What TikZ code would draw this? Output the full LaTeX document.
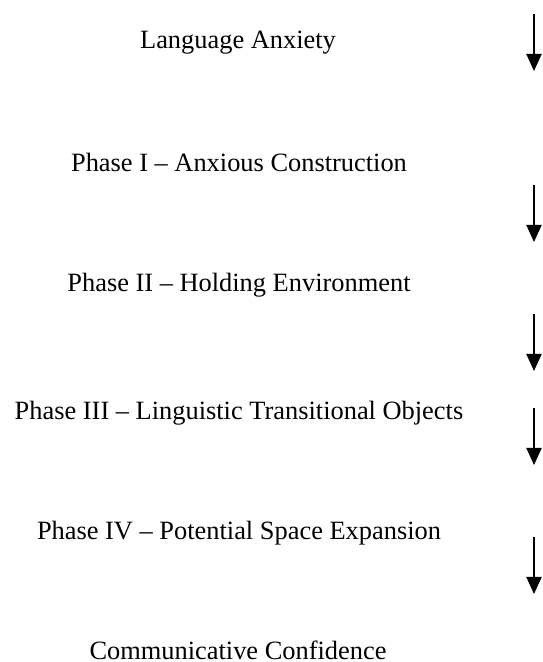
\documentclass[tikz,border=0pt]{standalone}
\usepackage{fontspec}
\setmainfont{Liberation Serif}
\usepackage{tikz}
\usetikzlibrary{arrows.meta, positioning}

\begin{document}
\begin{tikzpicture}[
  x=0.5pt, y=0.5pt,
  phase/.style={anchor=base, inner sep=0pt, font=\fontsize{13.2}{15}\selectfont},
  downarrow/.style={-{Triangle[width=7.5pt, length=8.5pt]}, line width=1pt, black}
]
  \useasboundingbox (0,0) rectangle (542,662);

  % Stages
  \node[phase] (anx)   at (238,613) {Language Anxiety};
  \node[phase] (ph1)   at (239,490) {Phase I – Anxious Construction};
  \node[phase] (ph2)   at (239,370) {Phase II – Holding Environment};
  \node[phase] (ph3)   at (239,242.5) {Phase III – Linguistic Transitional Objects};
  \node[phase] (ph4)   at (239,122) {Phase IV – Potential Space Expansion};
  \node[phase] (conf)  at (238,3) {Communicative Confidence};

  % Arrow ends on the right margin
  \coordinate (a1top) at (534,648);
  \coordinate (a1tip) at (534,591);
  \coordinate (a2top) at (534,477);
  \coordinate (a2tip) at (534,420);
  \coordinate (a3top) at (534,348);
  \coordinate (a3tip) at (534,291);
  \coordinate (a4top) at (534,254);
  \coordinate (a4tip) at (534,197);
  \coordinate (a5top) at (534,125);
  \coordinate (a5tip) at (534,68);

  % Arrows
  \draw[downarrow] (a1top) -- (a1tip);
  \draw[downarrow] (a2top) -- (a2tip);
  \draw[downarrow] (a3top) -- (a3tip);
  \draw[downarrow] (a4top) -- (a4tip);
  \draw[downarrow] (a5top) -- (a5tip);
\end{tikzpicture}
\end{document}
